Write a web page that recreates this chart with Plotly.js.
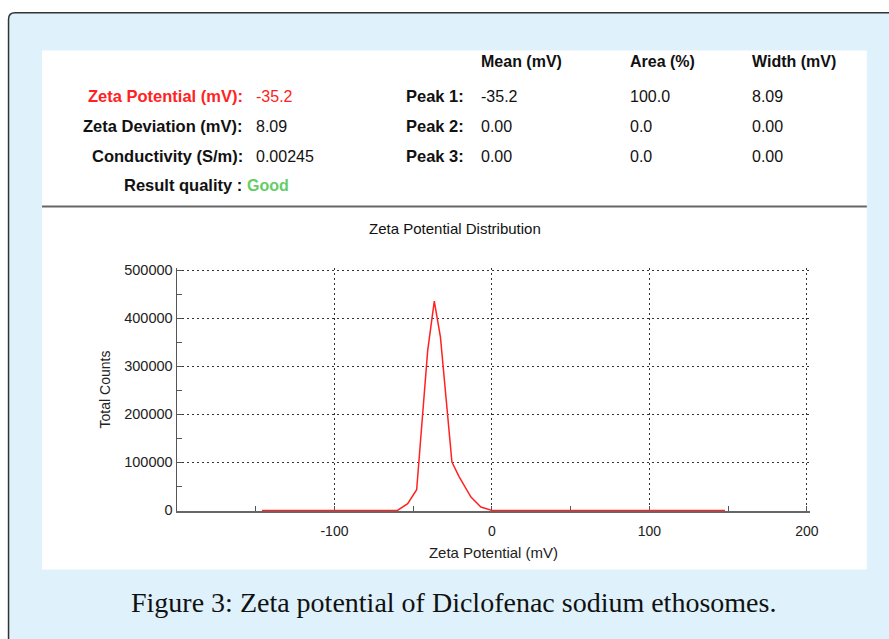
<!DOCTYPE html>
<html>
<head>
<meta charset="utf-8">
<script src="https://cdn.plot.ly/plotly-3.0.1.min.js"></script>
<style>
html,body{margin:0;padding:0;background:#fff;overflow:hidden;}
#chart{width:889px;height:639px;}
</style>
</head>
<body>
<div id="chart"></div>
<script>
// ---- data ----
var zetaPotential = [-146, -60, -53.5, -47.8, -40.8, -36.6, -32.7, -25.4, -20.7, -13.3, -7, 0, 148];
var totalCounts   = [0, 0, 14000, 43000, 333000, 436000, 361000, 100600, 69400, 27700, 7000, 0, 0];

var summaryLabels = ["Zeta Potential (mV):", "Zeta Deviation (mV):", "Conductivity (S/m):"];
var summaryValues = ["-35.2", "8.09", "0.00245"];
var qualityLabel = "Result quality&nbsp;:";
var qualityValue = "Good";

var peakHeaders = ["Mean (mV)", "Area (%)", "Width (mV)"];
var peakLabels = ["Peak 1:", "Peak 2:", "Peak 3:"];
var peakMeans  = ["-35.2", "0.00", "0.00"];
var peakAreas  = ["100.0", "0.0", "0.0"];
var peakWidths = ["8.09", "0.00", "0.00"];

var xTickVals = [-100, 0, 100, 200];
var yTickVals = [0, 100000, 200000, 300000, 400000, 500000];

var chartTitle = "Zeta Potential Distribution";
var xTitle = "Zeta Potential (mV)";
var yTitle = "Total Counts";
var caption = "Figure 3: Zeta potential of Diclofenac sodium ethosomes.";

// ---- layout geometry (pixels -> paper) ----
var W = 889, H = 639;
// x: -200 at 177px, 200 at 807px ; y: 0 at 510px, 500000 at 270px
var xMin = -200, xMax = 202, yMin = -1200, yMax = 505000;
var xScale = 630 / 400, yScale = 240 / 500000;
var M = {l: 177, r: W - (807 + (xMax - 200) * xScale),
         t: 270 - (yMax - 500000) * yScale, b: H - (510 - yMin * yScale)};
var PW = W - M.l - M.r, PH = H - M.t - M.b;
function px(x){ return (x - M.l) / PW; }
function py(y){ return (H - M.b - y) / PH; }

var FONT = "Liberation Sans, Arial, Helvetica, sans-serif";
var SERIF = "Liberation Serif, Times New Roman, serif";
var RED = "#ff2222", GREEN = "#66cc66", TXT = "#111111";

var annotations = [];
function txt(text, x, y, anchor, opts){
  opts = opts || {};
  var dx = anchor === "left" ? -2 : (anchor === "right" ? 2 : 0);
  annotations.push({
    text: text, xref: "paper", yref: "paper", x: px(x + dx), y: py(y),
    xanchor: anchor, yanchor: "middle", showarrow: false,
    font: {family: opts.family || FONT, size: opts.size || 16, color: opts.color || TXT}
  });
}
var rowY = [96, 126, 156];
var BOLD = 16.5;
for (var i = 0; i < summaryLabels.length; i++){
  var c = i === 0 ? RED : TXT;
  txt("<b>" + summaryLabels[i] + "</b>", 243, rowY[i], "right", {color: c, size: BOLD});
  txt(summaryValues[i], 256, rowY[i], "left", {color: c});
}
txt("<b>" + qualityLabel + "</b>", 242, 185, "right", {size: BOLD});
txt("<b>" + qualityValue + "</b>", 247, 185, "left", {color: GREEN});

var colX = [481, 630, 752];
for (var j = 0; j < peakHeaders.length; j++) txt("<b>" + peakHeaders[j] + "</b>", colX[j], 61, "left");
for (var k = 0; k < peakLabels.length; k++){
  txt("<b>" + peakLabels[k] + "</b>", 464, rowY[k], "right", {size: BOLD});
  txt(peakMeans[k], colX[0], rowY[k], "left");
  txt(peakAreas[k], colX[1], rowY[k], "left");
  txt(peakWidths[k], colX[2], rowY[k], "left");
}
txt(chartTitle, 455, 228, "center", {size: 15});
txt(caption, 454, 602, "center", {size: 28, family: SERIF, color: "#111"});

var shapes = [
  {type: "path", xref: "paper", yref: "paper", layer: "below",
   path: "M " + px(8.5) + "," + py(700) + " L " + px(8.5) + "," + py(19) +
         " Q " + px(8.5) + "," + py(12.5) + " " + px(15) + "," + py(12.5) +
         " L " + px(960) + "," + py(12.5) + " L " + px(960) + "," + py(700) + " Z",
   fillcolor: "#dff1fb", line: {color: "#333333", width: 1.5}},
  {type: "rect", xref: "paper", yref: "paper", layer: "below",
   x0: px(42), x1: px(867), y0: py(569), y1: py(50),
   fillcolor: "#ffffff", line: {width: 0}},
  {type: "line", xref: "paper", yref: "paper", layer: "below",
   x0: px(42), x1: px(867), y0: py(206), y1: py(206),
   line: {color: "#666666", width: 2}}
];

var trace = {
  x: zetaPotential, y: totalCounts, type: "scatter", mode: "lines",
  line: {color: RED, width: 1.5}, hoverinfo: "skip", cliponaxis: false
};

var layout = {
  width: W, height: H,
  margin: M,
  paper_bgcolor: "#ffffff",
  plot_bgcolor: "rgba(0,0,0,0)",
  showlegend: false,
  font: {family: FONT, size: 14, color: "#222"},
  xaxis: {
    range: [xMin, xMax], tickvals: xTickVals, ticktext: xTickVals.map(String),
    showgrid: true, gridcolor: "#333", gridwidth: 1, griddash: "2px,3px",
    zeroline: false, showline: true, linecolor: "#666", linewidth: 1.5,
    layer: "below traces",
    ticks: "inside", ticklen: 5, tickcolor: "#555", tickwidth: 1,
    minor: {dtick: 50, tick0: 0, ticks: "inside", ticklen: 5, tickcolor: "#555", showgrid: false},
    tickfont: {size: 14, color: "#222"}, ticklabelstandoff: 7,
    title: {text: xTitle, font: {size: 15, color: "#222"}, standoff: 9},
    fixedrange: true
  },
  yaxis: {
    range: [yMin, yMax], tickvals: yTickVals, ticktext: yTickVals.map(String),
    showgrid: true, gridcolor: "#333", gridwidth: 1, griddash: "2px,3px",
    zeroline: false, showline: true, linecolor: "#555", linewidth: 1.5,
    layer: "below traces",
    ticks: "inside", ticklen: 5, tickcolor: "#555", tickwidth: 1,
    minor: {dtick: 50000, tick0: 0, ticks: "inside", ticklen: 5, tickcolor: "#555", showgrid: false},
    tickfont: {size: 14.5, color: "#222"},
    title: {text: yTitle, font: {size: 14, color: "#222"}, standoff: 10},
    fixedrange: true
  },
  shapes: shapes,
  annotations: annotations
};

Plotly.newPlot("chart", [trace], layout, {displayModeBar: false, staticPlot: true});
</script>
</body>
</html>
